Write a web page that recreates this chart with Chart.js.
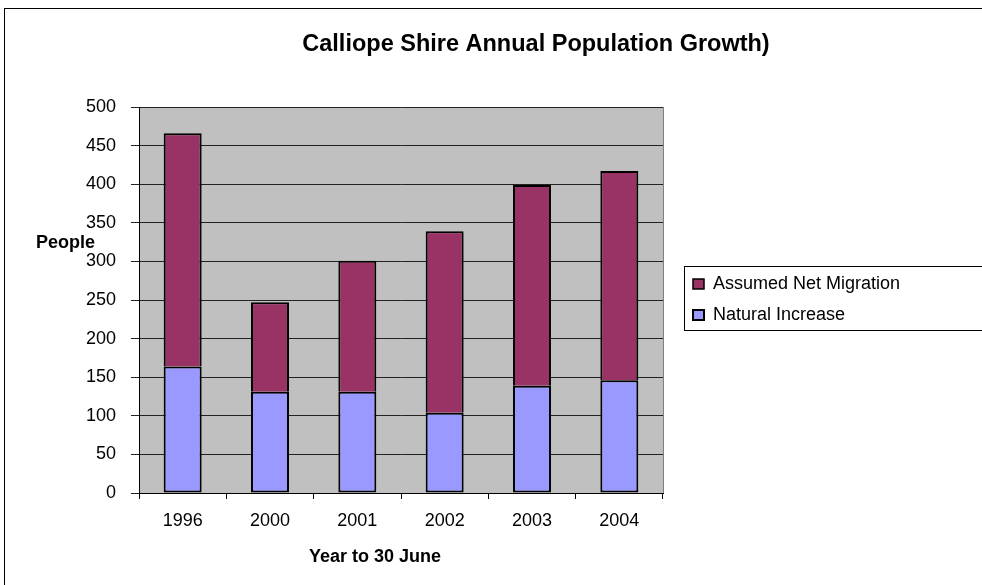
<!DOCTYPE html>
<html>
<head>
<meta charset="utf-8">
<script src="https://cdn.jsdelivr.net/npm/chart.js@4.4.1/dist/chart.umd.min.js"></script>
<style>
  html, body { margin: 0; padding: 0; background: #fff; overflow: hidden; }
  #wrap { width: 982px; height: 585px; position: relative; }
</style>
</head>
<body>
<div id="wrap"><canvas id="c"></canvas></div>
<script>
// values (people, year to 30 June)
var years = ["1996", "2000", "2001", "2002", "2003", "2004"];
var naturalIncrease = [164, 131, 131, 104, 139, 146];
var netMigration = [302, 116, 170, 235, 260, 271];
var yMax = 500, yStep = 50;

var chartTitle = "Calliope Shire Annual Population Growth)";
var yTitle = "People";
var xTitle = "Year to 30 June";

var FONT = '"Liberation Sans", Arial, sans-serif';
Chart.defaults.font.family = FONT;
Chart.defaults.font.size = 18;
Chart.defaults.color = "#000";

// grey plot area, frame, titles and the boxed legend
var frame = {
  id: "frame",
  beforeDraw: function(chart) {
    var ctx = chart.ctx, a = chart.chartArea;
    ctx.save();
    ctx.fillStyle = "#c0c0c0";
    ctx.fillRect(a.left, a.top, a.right - a.left, a.bottom - a.top);
    ctx.restore();

    // put legend next to the plot like the excel one
    var lg = chart.legend;
    lg.left = 680; lg.width = 400; lg.right = 1080;
    lg.top = 262; lg.height = 200; lg.bottom = 462;
  },
  afterDraw: function(chart) {
    var ctx = chart.ctx, a = chart.chartArea, lg = chart.legend;
    ctx.save();
    ctx.strokeStyle = "#808080";
    ctx.lineWidth = 1;
    ctx.beginPath();
    ctx.moveTo(Math.round(a.right) + 0.5, a.top);
    ctx.lineTo(Math.round(a.right) + 0.5, a.bottom);
    ctx.stroke();

    ctx.strokeStyle = "#000";
    ctx.strokeRect(lg.left + 4.5, lg.top + 4.5, 400, 64);
    ctx.strokeRect(4.5, 8.5, 1200, 1200);

    ctx.fillStyle = "#000";
    ctx.textAlign = "center";
    ctx.textBaseline = "middle";
    ctx.font = "bold 23.5px " + FONT;
    ctx.fillText(chartTitle, 536, 45);
    ctx.font = "bold 18px " + FONT;
    ctx.fillText(yTitle, 65.5, 243);
    ctx.fillText(xTitle, 375, 557);
    ctx.restore();
  }
};

var chart = new Chart(document.getElementById("c"), {
  type: "bar",
  data: {
    labels: years,
    datasets: [
      {
        label: "Natural Increase",
        data: naturalIncrease,
        backgroundColor: "#9999ff",
        borderColor: "#000",
        borderWidth: {top: 2, right: 2, bottom: 2, left: 2},
        borderSkipped: false
      },
      {
        label: "Assumed Net Migration",
        data: netMigration,
        backgroundColor: "#993366",
        borderColor: "#000",
        borderWidth: {top: 2, right: 2, bottom: 0, left: 2},
        borderSkipped: false
      }
    ]
  },
  options: {
    responsive: true,
    maintainAspectRatio: false,
    animation: false,
    layout: {padding: {top: 107, left: 0, right: 119, bottom: 32}},
    datasets: {bar: {categoryPercentage: 1, barPercentage: 0.435}},
    scales: {
      x: {
        stacked: true,
        grid: {display: true, drawOnChartArea: false, drawTicks: true, tickLength: 6, color: "#000"},
        border: {color: "#000", width: 1},
        ticks: {padding: 11, color: "#000", font: {size: 18}},
        afterFit: function(s) { s.height = 60; }
      },
      y: {
        stacked: true,
        min: 0,
        max: yMax,
        grid: {color: "#222", tickLength: 8},
        border: {color: "#000", width: 1},
        ticks: {stepSize: yStep, padding: 15, color: "#000", font: {size: 18}},
        afterFit: function(s) { s.width = 139; }
      }
    },
    plugins: {
      title: {display: false},
      tooltip: {enabled: false},
      legend: {
        position: "right",
        align: "start",
        reverse: true,
        maxWidth: 200,
        labels: {boxWidth: 11, boxHeight: 10, padding: 13, color: "#000", font: {size: 18}}
      }
    }
  },
  plugins: [frame]
});
</script>
</body>
</html>
